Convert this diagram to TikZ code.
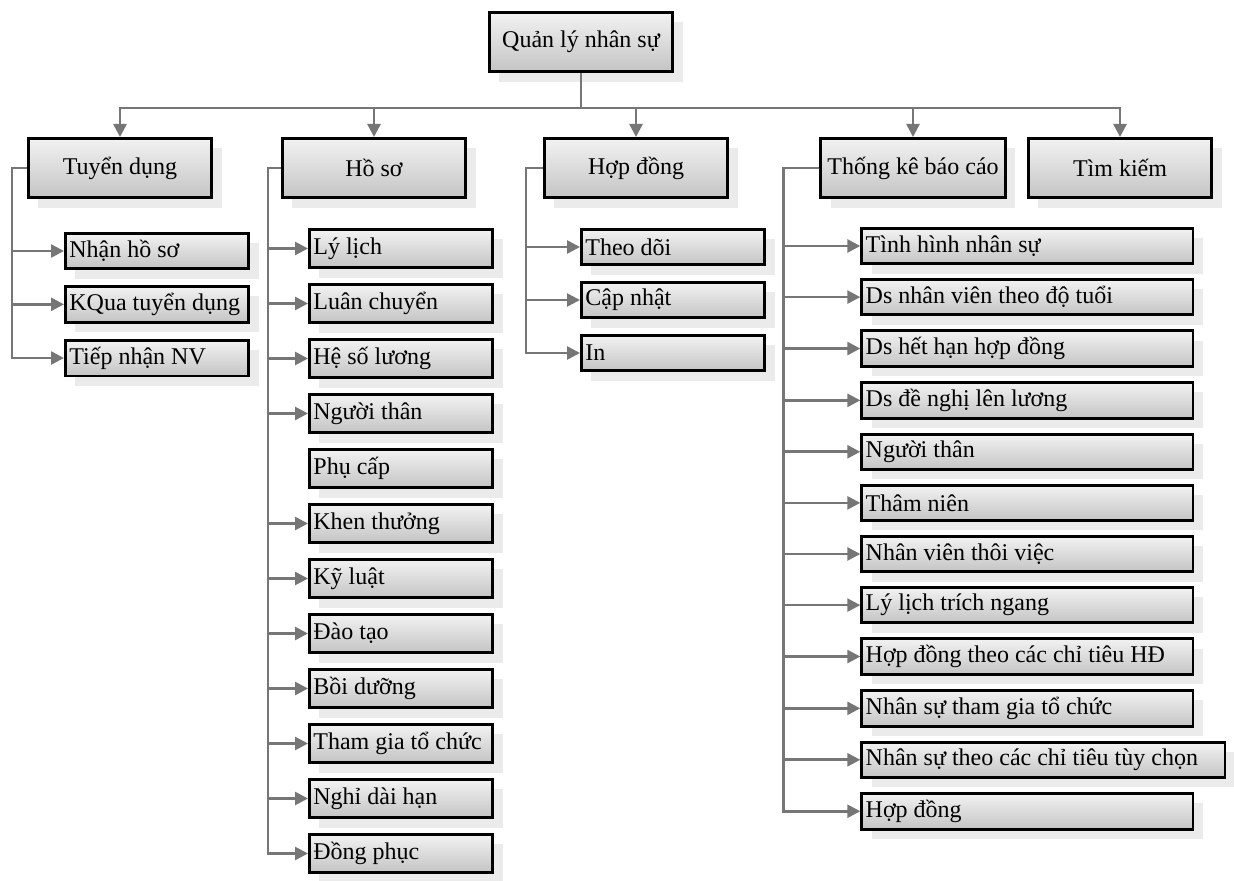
\documentclass[tikz,border=0pt]{standalone}
\usepackage{fontspec}
\setmainfont{Liberation Serif}
\usetikzlibrary{positioning, shadows, arrows.meta}
\definecolor{linkgray}{RGB}{118,118,118}
\tikzset{
    box/.style={draw=black, line width=1.4pt, top color=gray!10, bottom color=gray!46,
        drop shadow={shadow xshift=5pt, shadow yshift=-5pt, fill=gray!16, opacity=1},
        font=\fontsize{12}{14}\selectfont},
    head/.style={box, minimum width=91.6pt, minimum height=29.6pt, align=center},
    leaf/.style={box, text width=87.6pt, inner xsep=2pt, minimum height=17.6pt,
        execute at begin node={\spaceskip=0pt\xspaceskip=0pt\relax}},
    tallleaf/.style={leaf, minimum height=19.1pt},
    wideleaf/.style={leaf, text width=161.6pt},
    widerleaf/.style={leaf, text width=177.6pt},
    link/.style={draw=linkgray, line width=1.3pt},
    arr/.style={link, -{Triangle[length=6.5pt, width=6.5pt]}}
}
\begin{document}
\begin{tikzpicture}
    \useasboundingbox (0,0) rectangle (617pt,-440.5pt);
    \node[head] (root) at (290.5pt,-21pt) {Quản lý nhân sự};
    \node[head] (tuyen) at (60pt,-84pt) {Tuyển dụng};
    \node[head] (hoso) at (187pt,-84pt) {Hồ sơ};
    \node[head] (hopdong) at (318pt,-84pt) {Hợp đồng};
    \node[head] (thongke) at (456.5pt,-84pt) {Thống kê báo cáo};
    \node[head] (timkiem) at (560pt,-84pt) {Tìm kiếm};

    \node[leaf, below right=16.5pt and 18.5pt of tuyen.south west] (nhanhs) {Nhận hồ sơ};
    \node[leaf, below=7.5pt of nhanhs] (kqua) {KQua tuyển dụng};
    \node[leaf, below=7.5pt of kqua] (tiepnhan) {Tiếp nhận NV};

    \node[tallleaf, below right=14.5pt and 13.5pt of hoso.south west] (lylich) {Lý lịch};
    \node[tallleaf, below=7pt of lylich] (luanchuyen) {Luân chuyển};
    \node[tallleaf, below=7pt of luanchuyen] (hesoluong) {Hệ số lương};
    \node[tallleaf, below=7pt of hesoluong] (nguoithan) {Người thân};
    \node[tallleaf, below=7pt of nguoithan] (phucap) {Phụ cấp};
    \node[tallleaf, below=7pt of phucap] (khenthuong) {Khen thưởng};
    \node[tallleaf, below=7pt of khenthuong] (kyluat) {Kỹ luật};
    \node[tallleaf, below=7pt of kyluat] (daotao) {Đào tạo};
    \node[tallleaf, below=7pt of daotao] (boiduong) {Bồi dưỡng};
    \node[tallleaf, below=7pt of boiduong] (thamgia) {Tham gia tổ chức};
    \node[tallleaf, below=7pt of thamgia] (nghidaihan) {Nghỉ dài hạn};
    \node[tallleaf, below=7pt of nghidaihan] (dongphuc) {Đồng phục};

    \node[leaf, below right=14.5pt and 18.5pt of hopdong.south west] (theodoi) {Theo dõi};
    \node[leaf, below=7.5pt of theodoi] (capnhat) {Cập nhật};
    \node[leaf, below=7.5pt of capnhat] (inhd) {In};

    \node[wideleaf, below right=14pt and 20.5pt of thongke.south west] (tinhhinh) {Tình hình nhân sự};
    \node[wideleaf, below=6.55pt of tinhhinh] (dstuoi) {Ds nhân viên theo độ tuổi};
    \node[wideleaf, below=6.55pt of dstuoi] (dshethan) {Ds hết hạn hợp đồng};
    \node[wideleaf, below=6.55pt of dshethan] (dsdenghi) {Ds đề nghị lên lương};
    \node[wideleaf, below=6.55pt of dsdenghi] (tknguoithan) {Người thân};
    \node[wideleaf, below=6.55pt of tknguoithan] (thamnien) {Thâm niên};
    \node[wideleaf, below=6.55pt of thamnien] (thoiviec) {Nhân viên thôi việc};
    \node[wideleaf, below=6.55pt of thoiviec] (lylichtn) {Lý lịch trích ngang};
    \node[wideleaf, below=6.55pt of lylichtn] (hdchitieu) {Hợp đồng theo các chỉ tiêu HĐ};
    \node[wideleaf, below=6.55pt of hdchitieu] (nstochuc) {Nhân sự tham gia tổ chức};
    \node[widerleaf, below right=6.55pt and 0pt of nstochuc.south west] (nschitieu) {Nhân sự theo các chỉ tiêu tùy chọn};
    \node[wideleaf, below right=6.55pt and 0pt of nschitieu.south west] (tkhopdong) {Hợp đồng};

    \coordinate[below=17.5pt of root] (bus);
    \coordinate[left=7.5pt of tuyen] (tuyenbar);
    \coordinate[left=6.5pt of hoso] (hosobar);
    \coordinate[left=8.5pt of hopdong] (hopdongbar);
    \coordinate[left=18pt of thongke] (thongkebar);

    \foreach \h in {tuyen, hoso, hopdong, thongke, timkiem}
        \draw[arr] (root.south) -- (bus) -| (\h.north);
    \foreach \l in {nhanhs, kqua, tiepnhan}
        \draw[arr] (tuyen.west) -- (tuyenbar) |- (\l.west);
    \foreach \l in {lylich, luanchuyen, hesoluong, nguoithan, khenthuong, kyluat, daotao, boiduong, thamgia, nghidaihan, dongphuc}
        \draw[arr] (hoso.west) -- (hosobar) |- (\l.west);
    \foreach \l in {theodoi, capnhat, inhd}
        \draw[arr] (hopdong.west) -- (hopdongbar) |- (\l.west);
    \foreach \l in {tinhhinh, dstuoi, dshethan, dsdenghi, tknguoithan, thamnien, thoiviec, lylichtn, hdchitieu, nstochuc, nschitieu, tkhopdong}
        \draw[arr] (thongke.west) -- (thongkebar) |- (\l.west);
\end{tikzpicture}
\end{document}
